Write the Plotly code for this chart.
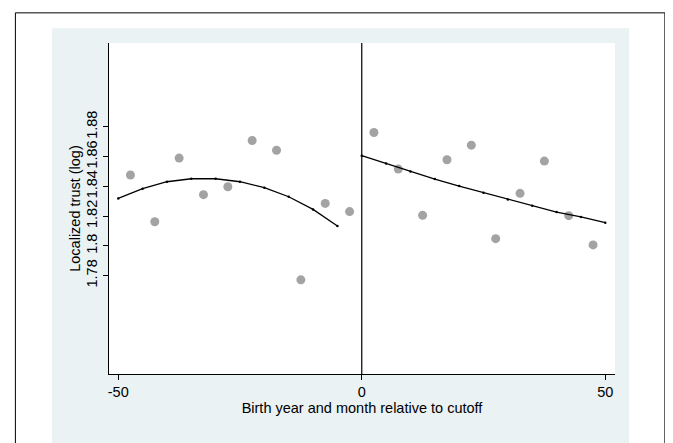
import plotly.graph_objects as go

# Binned scatter (left / right of cutoff)
left_x = [-47.5, -42.5, -37.5, -32.5, -27.5, -22.5, -17.5, -12.5, -7.5, -2.5]
left_y = [1.8476, 1.8162, 1.8590, 1.8344, 1.8397, 1.8708, 1.8643, 1.7771, 1.8285, 1.8230]
right_x = [2.5, 7.5, 12.5, 17.5, 22.5, 27.5, 32.5, 37.5, 42.5, 47.5]
right_y = [1.8762, 1.8516, 1.8205, 1.8579, 1.8677, 1.8048, 1.8353, 1.8570, 1.8203, 1.8006]

# Fitted lines
fit_left_x = [-50, -45, -40, -35, -30, -25, -20, -15, -10, -5]
fit_left_y = [1.8319, 1.8384, 1.8431, 1.8451, 1.8451, 1.8431, 1.8391, 1.8330, 1.8245, 1.8133]
fit_right_x = [0, 5, 10, 15, 20, 25, 30, 35, 40, 45, 50]
fit_right_y = [1.8606, 1.8554, 1.8500, 1.8449, 1.8402, 1.8357, 1.8312, 1.8270, 1.8227, 1.8194, 1.8156]

cutoff = 0
x_ticks = [-50, 0, 50]
x_tick_labels = ["-50", "0", "50"]
y_ticks = [1.78, 1.80, 1.82, 1.84, 1.86, 1.88]
y_tick_labels = ["1.78", "1.8", "1.82", "1.84", "1.86", "1.88"]

FONT = "Liberation Sans, Arial, Helvetica, sans-serif"
FS = 14.5
dot_color = "#a3a3a3"

fig = go.Figure()
for xs, ys in [(left_x, left_y), (right_x, right_y)]:
    fig.add_trace(go.Scatter(x=xs, y=ys, mode="markers",
                             marker=dict(size=9, color=dot_color),
                             showlegend=False, hoverinfo="skip"))
for xs, ys in [(fit_left_x, fit_left_y), (fit_right_x, fit_right_y)]:
    fig.add_trace(go.Scatter(x=xs, y=ys, mode="lines+markers",
                             line=dict(color="black", width=1.3),
                             marker=dict(size=2.5, color="black"),
                             showlegend=False, hoverinfo="skip"))

W, H = 673, 443
OFF = 8  # page body margin
L, R, T, B = 108.6 - OFF, 614.6 - OFF, 42.7 - OFF, 374.3 - OFF
pw, ph = R - L, B - T

def px(x):
    return (x - OFF - L) / pw

def py(y):
    return (B - (y - OFF)) / ph

shapes = [
    # outer black frame
    dict(type="rect", xref="paper", yref="paper", x0=px(15), x1=px(664.5),
         y0=py(480), y1=py(12.5), line=dict(color="black", width=1),
         fillcolor="white", layer="below"),
    # light blue panel
    dict(type="rect", xref="paper", yref="paper", x0=px(51.5), x1=px(628.7),
         y0=py(480), y1=py(28), line=dict(width=0),
         fillcolor="#eaf2f3", layer="below"),
    # white plot region
    dict(type="rect", xref="paper", yref="paper", x0=0, x1=1, y0=0, y1=1,
         line=dict(width=0), fillcolor="white", layer="below"),
    # cutoff line
    dict(type="line", xref="x", yref="paper", x0=cutoff, x1=cutoff, y0=0, y1=1,
         line=dict(color="black", width=1.2), layer="above"),
]

fig.update_layout(
    width=W, height=H,
    margin=dict(l=L, r=W - R, t=T, b=H - B, pad=0),
    paper_bgcolor="white", plot_bgcolor="white",
    font=dict(family=FONT, size=FS, color="black"),
    shapes=shapes,
    xaxis=dict(range=[-51.9, 52.0], tickvals=x_ticks, ticktext=x_tick_labels,
               showgrid=False,
               zeroline=False, showline=True, linecolor="black", linewidth=1,
               ticks="outside", ticklen=5, tickcolor="black",
               title=dict(text="Birth year and month relative to cutoff",
                          standoff=1, font=dict(size=FS))),
    yaxis=dict(range=[1.7138, 1.9364], tickvals=y_ticks, ticktext=y_tick_labels,
               tickangle=-90, showgrid=False, zeroline=False, showline=True,
               linecolor="black", linewidth=1, ticks="outside", ticklen=5,
               tickcolor="black",
               title=dict(text="Localized trust (log)", standoff=0,
                          font=dict(size=FS))),
)

fig.write_html("out.html")
